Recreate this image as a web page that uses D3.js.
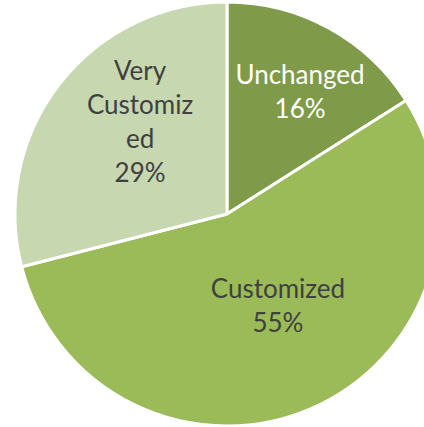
<!DOCTYPE html>
<html>
<head>
<meta charset="utf-8">
<script src="https://cdn.jsdelivr.net/npm/d3@7/dist/d3.min.js"></script>
<style>
  html, body { margin: 0; padding: 0; background: #fff; overflow: hidden; }
  svg { display: block; }
</style>
</head>
<body>
<svg id="chart" width="424" height="427"></svg>
<script>
// Share of deployments by customization level
const categories = ["Unchanged", "Customized", "Very Customized"];
const values = [16, 55, 29];
const labelLines = [["Unchanged", "16%"], ["Customized", "55%"], ["Very", "Customiz", "ed", "29%"]];
const colors = ["#7f9b4a", "#9bbb59", "#c7d7b0"];
const textColors = ["#ffffff", "#404040", "#404040"];

const svg = d3.select("#chart");
const cx = 227, cy = 214, r = 212;

const data = categories.map((c, i) => ({ name: c, value: values[i], lines: labelLines[i], i }));

const pie = d3.pie().value(d => d.value).sort(null);
const arc = d3.arc().innerRadius(0).outerRadius(r);

const g = svg.append("g").attr("transform", `translate(${cx},${cy})`);

const arcs = pie(data);

g.selectAll("path.slice")
  .data(arcs)
  .join("path")
  .attr("class", "slice")
  .attr("d", arc)
  .attr("fill", d => colors[d.data.i])
  .attr("stroke", "#ffffff")
  .attr("stroke-width", 3)
  .attr("stroke-linejoin", "round");

// labels placed inside each slice: radial distance (fraction of r) and angular nudge (degrees)
const radiusFactor = [0.673, 0.494, 0.597];
const angleNudge = [2, -5.7, 8.8];
const lineH = 34;

arcs.forEach(d => {
  const k = radiusFactor[d.data.i];
  const a = (d.startAngle + d.endAngle) / 2 + angleNudge[d.data.i] * Math.PI / 180;
  const x = Math.sin(a) * r * k;
  const y = -Math.cos(a) * r * k;
  const lines = d.data.lines;
  const t = g.append("text")
    .attr("text-anchor", "middle")
    .attr("font-family", "Lato, 'Open Sans', sans-serif")
    .attr("font-size", 26)
    .attr("fill", textColors[d.data.i]);
  lines.forEach((s, j) => {
    t.append("tspan")
      .attr("x", x)
      .attr("y", y + (j - (lines.length - 1) / 2) * lineH)
      .attr("dy", "0.35em")
      .text(s);
  });
});
</script>
</body>
</html>
